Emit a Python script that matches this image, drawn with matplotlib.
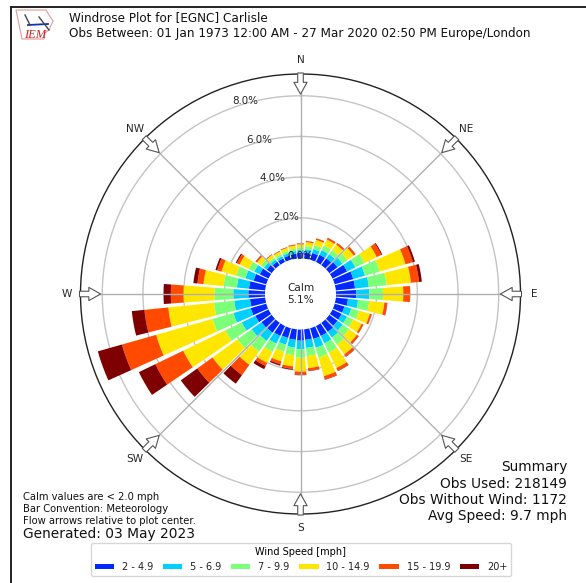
import matplotlib
matplotlib.use('Agg')
import matplotlib.pyplot as plt
import numpy as np
from matplotlib.lines import Line2D
from matplotlib.patches import Polygon

W, H = 586, 583

directions = np.arange(0, 360, 10)
speed_labels = ['2 - 4.9', '5 - 6.9', '7 - 9.9', '10 - 14.9', '15 - 19.9', '20+']
colors = ['#0028ff', '#00d0ff', '#7cff79', '#ffe600', '#ff4a00', '#7f0000']

# percent of obs per direction, one list per speed bin
s2_5 = [.28, .30, .35, .40, .42, .50, .80, .95, .95, 1.00, .60, .50, .50, .50, .55, .55, .55, .52,
        .55, .52, .50, .55, .60, .62, .72, .80, .75, .82, .80, .65, .48, .30, .22, .20, .22, .25]
s5_7 = [.14, .17, .20, .25, .25, .30, .45, .60, .68, .64, .50, .35, .30, .32, .35, .40, .45, .40,
        .42, .38, .35, .42, .50, .60, .74, .88, .78, .74, .60, .42, .30, .17, .13, .12, .12, .13]
s7_10 = [.13, .15, .20, .25, .25, .30, .50, .75, .88, .67, .55, .40, .33, .37, .42, .50, .50, .40,
         .42, .38, .35, .45, .65, .85, .90, 1.07, 1.00, .93, .65, .47, .30, .17, .12, .11, .12, .12]
s10_15 = [.15, .20, .27, .33, .33, .38, .67, 1.32, 1.20, 1.00, .75, .55, .47, .48, .60, .85, .95, .60,
          .68, .55, .50, .60, .80, 1.52, 2.30, 2.88, 2.26, 1.52, 1.00, .75, .50, .25, .16, .14, .15, .15]
s15_20 = [.04, .05, .07, .09, .09, .11, .25, .38, .40, .33, .13, .09, .09, .10, .13, .15, .17, .13,
          .15, .13, .15, .17, .62, .92, 1.52, 1.75, 1.18, .62, .30, .22, .15, .07, .03, .03, .03, .04]
s20 = [.01, .01, .01, .01, .01, .01, .05, .10, .14, .01, .02, .01, .01, .02, .02, .02, .02, .02,
       .03, .04, .07, .17, .52, 1.00, .90, 1.23, .62, .36, .20, .09, .06, .02, .01, .01, .01, .01]
speed_bins = [s2_5, s5_7, s7_10, s10_15, s15_20, s20]

rticks = [0, 2, 4, 6, 8]
compass = ['N', 'NE', 'E', 'SE', 'S', 'SW', 'W', 'NW']
compass_deg = [0, 45, 90, 135, 180, 225, 270, 315]

fig = plt.figure(figsize=(W / 100, H / 100), dpi=100)

def px(x, y):
    return x / W, 1 - y / H

# frame, runs off the right and bottom of the image
fig.add_artist(Line2D([px(10.5, 0)[0], px(10.5, 0)[0]], [0, px(0, 6.5)[1]], color='#222222', lw=1.4))
fig.add_artist(Line2D([px(10.5, 0)[0], 1], [px(0, 6.5)[1], px(0, 6.5)[1]], color='#222222', lw=1.4))

ax = fig.add_axes([80.5 / W, 69 / H, 440 / W, 440 / H], projection='polar')
ax.set_theta_zero_location('N')
ax.set_theta_direction(-1)
ax.set_rorigin(-1.744)
ax.set_ylim(0, 9.07)
ax.set_axisbelow(True)

theta = np.deg2rad(directions)
bottom = np.zeros(len(directions))
handles = []
for vals, c, lab in zip(speed_bins, colors, speed_labels):
    b = ax.bar(theta, vals, width=np.deg2rad(8.4), bottom=bottom, color=c, label=lab, linewidth=0)
    handles.append(b)
    bottom = bottom + np.array(vals)

ax.set_thetagrids(compass_deg, compass, fontsize=7.6, color='#262626')
ax.tick_params(axis='x', pad=-0.5)
ax.xaxis.set_zorder(5)
ax.xaxis.grid(True, color='#b0b0b0', lw=1.0)
ax.yaxis.grid(True, color='#c4c4c4', lw=1.0)
ax.set_yticks(rticks)
ax.set_yticklabels([])
ax.spines['polar'].set_linewidth(1.0)
ax.spines['polar'].set_color('#222222')
ax.spines['inner'].set_linewidth(0)

# radial labels sit on a slanted line left of the north spoke
for v in rticks:
    ax.annotate('%.1f%%' % v, xy=(0, v), xytext=(-6.9 * v, 2.5 - 0.95 * v), textcoords='offset pixels',
                ha='center', va='center', fontsize=7.4, color='#262626', zorder=6)

# hollow arrows at the compass points
for d in compass_deg:
    ax.annotate('', xy=(np.deg2rad(d), 8.08), xytext=(np.deg2rad(d), 9.12),
                arrowprops=dict(facecolor='white', edgecolor='#555555', width=4, headwidth=9.5,
                                headlength=8.5, lw=0.8, shrink=0), zorder=7, annotation_clip=False)

ax.text(0.5, 0.5, 'Calm\n5.1%', transform=ax.transAxes, ha='center', va='center', fontsize=7.6,
        color='#262626', zorder=8, linespacing=1.2)

# logo
logo = fig.add_axes([14 / W, 1 - 41 / H, 42 / W, 32 / H])
logo.set_xlim(0, 42)
logo.set_ylim(32, 0)
logo.axis('off')
logo.add_patch(Polygon([(2, 1), (32, 1), (35, 6), (39, 12), (35, 21), (31, 24), (30, 30), (8, 30), (6, 20)],
                       closed=True, fill=False, edgecolor='#e39a9a', lw=0.8))
logo.plot([14, 34], [16, 15], color='#1a2fb0', lw=1.3)
logo.plot([11, 16], [6, 16], color='#445', lw=1)
logo.plot([25, 35], [8, 21], color='#445', lw=1)
logo.text(10, 29, 'IEM', family='Liberation Serif', style='italic', fontsize=9, color='#cc2222')

fs = 8.67
fig.text(*px(69, 18), 'Windrose Plot for [EGNC] Carlisle', fontsize=fs, va='center', color='#111111')
fig.text(*px(69, 33), 'Obs Between: 01 Jan 1973 12:00 AM - 27 Mar 2020 02:50 PM Europe/London',
         fontsize=fs, va='center', color='#111111')

summary = ['Summary', 'Obs Used: 218149', 'Obs Without Wind: 1172', 'Avg Speed: 9.7 mph']
for s, y in zip(summary, [467, 484, 500, 516]):
    fig.text(*px(567, y), s, fontsize=9.9, ha='right', va='center', color='#111111')

notes = ['Calm values are < 2.0 mph', 'Bar Convention: Meteorology', 'Flow arrows relative to plot center.']
for s, y in zip(notes, [497, 509, 521]):
    fig.text(*px(23, y), s, fontsize=7.2, va='center', color='#111111')
fig.text(*px(23, 534), 'Generated: 03 May 2023', fontsize=9.95, va='center', color='#111111')

fig.legend(handles=handles, labels=speed_labels, title='Wind Speed [mph]', ncol=6, loc='center',
           bbox_to_anchor=px(301, 559.5), fontsize=7, title_fontsize=7, handlelength=2.0,
           handleheight=0.45, columnspacing=1.0, handletextpad=0.8, labelcolor='#222222')

fig.savefig('out.png', dpi=100)
